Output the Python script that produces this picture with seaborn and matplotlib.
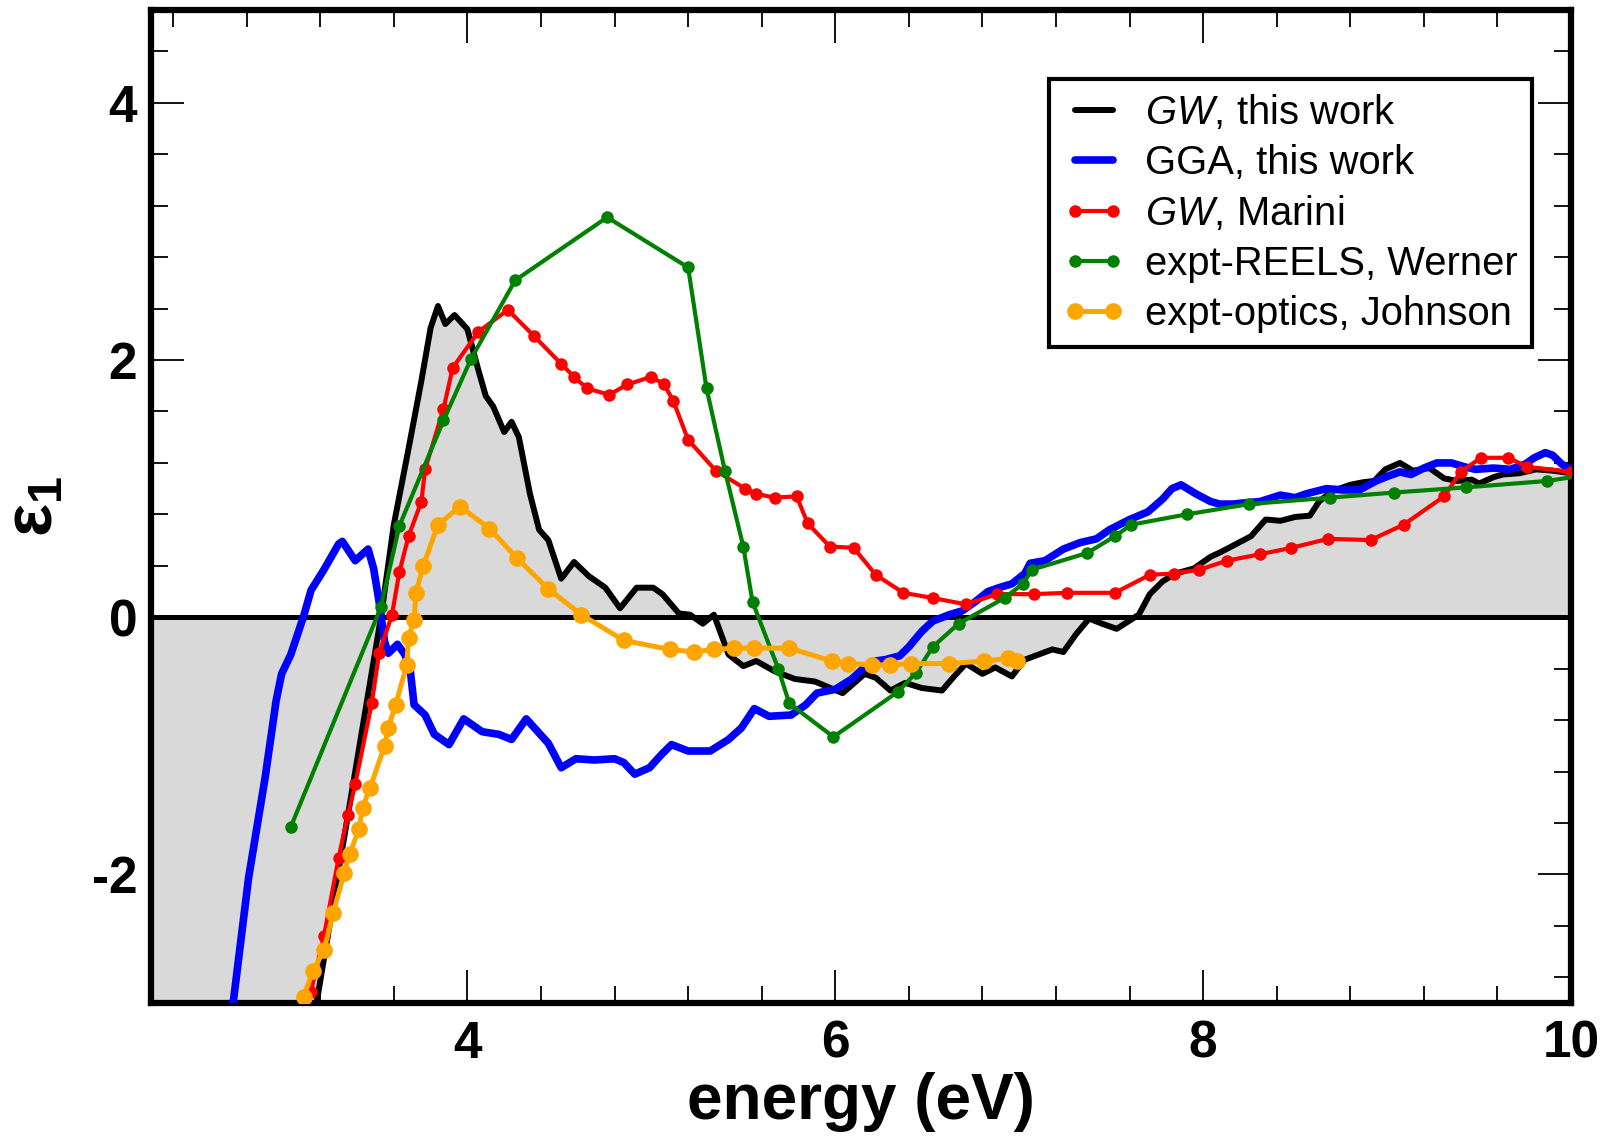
import numpy as np
import pandas as pd
import matplotlib
matplotlib.use("Agg")
import matplotlib.pyplot as plt
import seaborn as sns
from matplotlib.ticker import MultipleLocator

# ---------------- data ----------------
gw_x = [2.20, 3.18, 3.53, 3.60, 3.68, 3.75, 3.80, 3.84, 3.88, 3.93, 4.00, 4.06, 4.10, 4.14,
        4.20, 4.24, 4.28, 4.34, 4.39, 4.44, 4.51, 4.58, 4.66, 4.75, 4.83, 4.92, 5.01, 5.06,
        5.15, 5.21, 5.28, 5.34, 5.42, 5.50, 5.57, 5.67, 5.78, 5.89, 6.04, 6.16, 6.22, 6.30,
        6.38, 6.47, 6.58, 6.64, 6.71, 6.80, 6.87, 6.96, 7.03, 7.18, 7.24, 7.31, 7.38, 7.45,
        7.53, 7.65, 7.71, 7.78, 7.85, 7.95, 8.04, 8.10, 8.18, 8.26, 8.34, 8.42, 8.50, 8.58,
        8.63, 8.70, 8.80, 8.87, 8.93, 8.99, 9.07, 9.14, 9.23, 9.31, 9.38, 9.46, 9.50, 9.58,
        9.63, 9.72, 9.81, 9.90, 10.0]
gw_y = [-11.4, -3.0, 0.0, 0.72, 1.31, 1.84, 2.25, 2.42, 2.28, 2.35, 2.24, 1.92, 1.72, 1.64,
        1.44, 1.52, 1.40, 0.96, 0.68, 0.60, 0.30, 0.43, 0.32, 0.23, 0.07, 0.23, 0.23, 0.18,
        0.03, 0.02, -0.05, 0.02, -0.29, -0.38, -0.34, -0.42, -0.48, -0.50, -0.59, -0.44, -0.47, -0.57,
        -0.51, -0.55, -0.57, -0.47, -0.36, -0.44, -0.39, -0.46, -0.33, -0.25, -0.27, -0.13, -0.01, -0.05,
        -0.09, 0.02, 0.18, 0.28, 0.34, 0.38, 0.47, 0.51, 0.57, 0.63, 0.76, 0.75, 0.78, 0.79,
        0.90, 0.98, 1.03, 1.05, 1.06, 1.15, 1.20, 1.14, 1.16, 1.08, 1.06, 1.07, 1.04, 1.09,
        1.11, 1.12, 1.15, 1.14, 1.12]

gga_x = [2.68, 2.73, 2.81, 2.90, 2.96, 2.99, 3.04, 3.11, 3.15, 3.22, 3.30, 3.32, 3.39, 3.46,
         3.49, 3.52, 3.55, 3.57, 3.62, 3.66, 3.69, 3.71, 3.77, 3.82, 3.90, 3.98, 4.08, 4.17,
         4.24, 4.32, 4.44, 4.51, 4.59, 4.69, 4.80, 4.85, 4.91, 4.99, 5.06, 5.11, 5.20, 5.32,
         5.42, 5.49, 5.56, 5.64, 5.76, 5.84, 5.90, 6.00, 6.09, 6.15, 6.22, 6.27, 6.35, 6.40,
         6.47, 6.53, 6.62, 6.69, 6.76, 6.83, 6.89, 6.96, 7.03, 7.06, 7.14, 7.24, 7.33, 7.42,
         7.49, 7.60, 7.70, 7.78, 7.83, 7.88, 7.96, 8.04, 8.09, 8.16, 8.23, 8.31, 8.42, 8.50,
         8.56, 8.67, 8.76, 8.85, 8.94, 9.01, 9.07, 9.13, 9.20, 9.27, 9.35, 9.42, 9.48, 9.58,
         9.67, 9.75, 9.80, 9.86, 9.90, 9.95, 10.0]
gga_y = [-3.4, -2.96, -2.03, -1.25, -0.65, -0.44, -0.29, 0.01, 0.21, 0.37, 0.57, 0.59, 0.44, 0.53,
         0.38, 0.12, -0.19, -0.28, -0.21, -0.29, -0.42, -0.68, -0.76, -0.91, -0.99, -0.79, -0.89, -0.91,
         -0.95, -0.79, -0.98, -1.17, -1.10, -1.11, -1.10, -1.13, -1.22, -1.17, -1.06, -0.99, -1.04, -1.04,
         -0.95, -0.86, -0.71, -0.77, -0.76, -0.68, -0.59, -0.56, -0.48, -0.40, -0.34, -0.33, -0.30, -0.23,
         -0.11, -0.03, 0.02, 0.05, 0.12, 0.20, 0.23, 0.26, 0.34, 0.42, 0.44, 0.53, 0.58, 0.61,
         0.68, 0.76, 0.82, 0.92, 1.00, 1.03, 0.96, 0.90, 0.88, 0.88, 0.89, 0.90, 0.95, 0.93,
         0.96, 1.00, 0.99, 0.99, 1.06, 1.10, 1.13, 1.11, 1.16, 1.20, 1.20, 1.17, 1.15, 1.16,
         1.15, 1.19, 1.24, 1.28, 1.26, 1.19, 1.15]

marini_x = [3.15, 3.22, 3.30, 3.35, 3.39, 3.48, 3.52, 3.59, 3.63, 3.68, 3.75, 3.77, 3.87, 3.92,
            4.06, 4.22, 4.36, 4.51, 4.58, 4.65, 4.77, 4.87, 5.00, 5.07, 5.12, 5.20, 5.35, 5.51,
            5.57, 5.67, 5.79, 5.85, 5.97, 6.10, 6.22, 6.37, 6.53, 6.71, 6.88, 7.08, 7.26, 7.52,
            7.71, 7.84, 7.98, 8.13, 8.31, 8.48, 8.68, 8.91, 9.09, 9.31, 9.40, 9.51, 9.66, 9.76,
            10.0]
marini_y = [-2.91, -2.48, -1.87, -1.54, -1.30, -0.67, -0.28, 0.02, 0.35, 0.63, 0.90, 1.15, 1.62, 1.94,
            2.22, 2.39, 2.19, 1.97, 1.87, 1.78, 1.73, 1.81, 1.87, 1.81, 1.68, 1.38, 1.14, 1.00,
            0.96, 0.93, 0.94, 0.73, 0.55, 0.54, 0.33, 0.19, 0.15, 0.10, 0.18, 0.18, 0.19, 0.19,
            0.33, 0.34, 0.37, 0.44, 0.49, 0.54, 0.61, 0.60, 0.72, 0.94, 1.13, 1.24, 1.24, 1.17,
            1.13]

werner_x = [3.04, 3.53, 3.63, 3.87, 4.02, 4.26, 4.76, 5.20, 5.30, 5.40, 5.50, 5.55, 5.69, 5.75,
            5.99, 6.34, 6.44, 6.53, 6.67, 6.92, 7.02, 7.07, 7.37, 7.52, 7.61, 7.91, 8.25, 8.69,
            9.04, 9.43, 9.87, 10.1]
werner_y = [-1.63, 0.08, 0.71, 1.53, 2.01, 2.62, 3.11, 2.72, 1.78, 1.14, 0.55, 0.12, -0.40, -0.67,
            -0.93, -0.58, -0.43, -0.23, -0.05, 0.15, 0.26, 0.37, 0.50, 0.63, 0.72, 0.80, 0.88, 0.93,
            0.97, 1.01, 1.06, 1.11]

johnson_x = [3.11, 3.16, 3.22, 3.27, 3.33, 3.36, 3.41, 3.43, 3.47, 3.55, 3.57, 3.61, 3.67, 3.68,
             3.71, 3.72, 3.76, 3.84, 3.96, 4.12, 4.27, 4.44, 4.62, 4.85, 5.10, 5.23, 5.34, 5.45,
             5.56, 5.75, 5.98, 6.07, 6.20, 6.30, 6.41, 6.62, 6.81, 6.94, 6.99]
johnson_y = [-2.95, -2.75, -2.59, -2.30, -1.99, -1.84, -1.65, -1.48, -1.33, -1.00, -0.86, -0.68, -0.37, -0.16,
             -0.02, 0.19, 0.40, 0.72, 0.86, 0.69, 0.46, 0.22, 0.02, -0.18, -0.25, -0.27, -0.25, -0.24,
             -0.24, -0.24, -0.34, -0.36, -0.37, -0.37, -0.36, -0.36, -0.34, -0.32, -0.34]

labels = [r"$\mathit{GW}$, this work", "GGA, this work", r"$\mathit{GW}$, Marini",
          "expt-REELS, Werner", "expt-optics, Johnson"]

# ---------------- style ----------------
sns.set_style("ticks")
plt.rcParams["font.family"] = ["Liberation Sans", "DejaVu Sans"]
plt.rcParams["mathtext.fontset"] = "custom"
plt.rcParams["mathtext.it"] = "Liberation Sans:italic"
plt.rcParams["mathtext.bf"] = "Liberation Sans:bold"
plt.rcParams["mathtext.rm"] = "Liberation Sans"
plt.rcParams["axes.unicode_minus"] = False
for key in ["text.color", "axes.labelcolor", "xtick.color", "ytick.color", "axes.edgecolor"]:
    plt.rcParams[key] = "black"

fig, ax = plt.subplots(figsize=(16.1, 11.36), dpi=100)
fig.subplots_adjust(left=0.0938, right=0.9758, top=0.991, bottom=0.117)

ax.fill_between(gw_x, gw_y, 0, color="#d9d9d9", lw=0, zorder=1)
ax.axhline(0, color="black", lw=3.6, zorder=2)

sns.lineplot(x=gw_x, y=gw_y, ax=ax, color="black", lw=4.3, sort=False, estimator=None,
             label=labels[0], zorder=3)
sns.lineplot(x=gga_x, y=gga_y, ax=ax, color="#0000ff", lw=5.5, sort=False, estimator=None,
             label=labels[1], zorder=4)
sns.lineplot(x=marini_x, y=marini_y, ax=ax, color="#ff0000", lw=3.0, sort=False, estimator=None,
             marker="o", markersize=9, markeredgewidth=0, label=labels[2], zorder=5)
sns.lineplot(x=werner_x, y=werner_y, ax=ax, color="#008000", lw=3.0, sort=False, estimator=None,
             marker="o", markersize=9, markeredgewidth=0, label=labels[3], zorder=6)
sns.lineplot(x=johnson_x, y=johnson_y, ax=ax, color="#ffa500", lw=3.6, sort=False, estimator=None,
             marker="o", markersize=12, markeredgewidth=0, label=labels[4], zorder=7)

ax.set_xlim(2.28, 10.0)
ax.set_ylim(-3.0, 4.72)
ax.xaxis.set_major_locator(MultipleLocator(2))
ax.xaxis.set_minor_locator(MultipleLocator(0.4))
ax.yaxis.set_major_locator(MultipleLocator(2))
ax.yaxis.set_minor_locator(MultipleLocator(0.4))
ax.tick_params(which="both", direction="in", top=True, right=True, width=1.3, color="black")
ax.tick_params(which="major", length=24, labelsize=37)
ax.tick_params(which="minor", length=12)
ax.tick_params(axis="x", which="major", pad=12)
ax.tick_params(axis="y", which="major", pad=10)
for lab in ax.get_xticklabels() + ax.get_yticklabels():
    lab.set_fontweight("bold")
    lab.set_color("black")
for sp in ax.spines.values():
    sp.set_linewidth(4.5)
    sp.set_color("black")

ax.set_xlabel("energy (eV)", fontsize=46, fontweight="bold", labelpad=2, color="black")
ax.set_ylabel(r"$\mathbf{\varepsilon}_{\mathbf{1}}$", fontsize=50, fontweight="bold", color="black")
ax.yaxis.set_label_coords(-0.06, 0.5)

leg = ax.legend(loc="upper right", bbox_to_anchor=(0.9725, 0.9305), borderaxespad=0,
                fontsize=28.8, frameon=True, fancybox=False, edgecolor="black",
                handlelength=1.55, handletextpad=0.5, labelspacing=0.3, borderpad=0.35,
                numpoints=2)
leg.get_frame().set_linewidth(3)
leg.get_frame().set_alpha(1)
for t in leg.get_texts():
    t.set_color("black")

fig.savefig("out.png", dpi=100)
